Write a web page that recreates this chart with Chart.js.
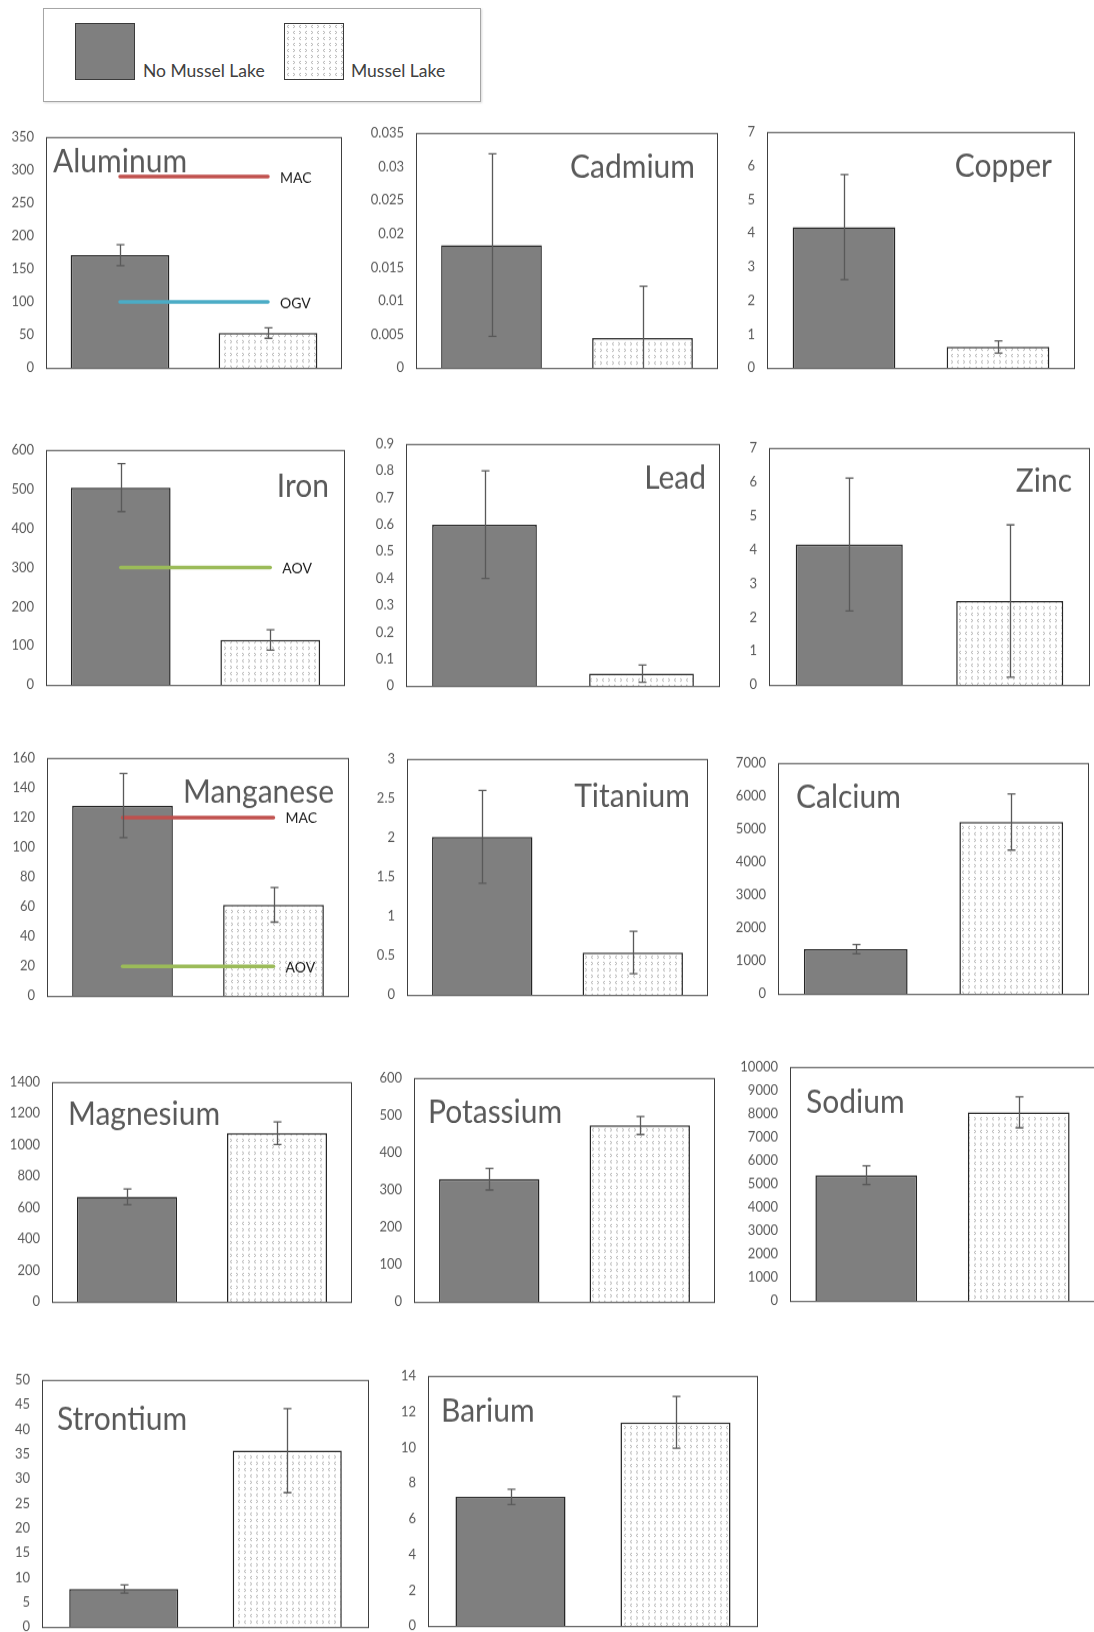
<!DOCTYPE html>
<html>
<head>
<meta charset="utf-8">
<script src="https://cdn.jsdelivr.net/npm/chart.js@4.4.1/dist/chart.umd.min.js"></script>
<style>
  html, body { margin: 0; padding: 0; background: #fff; }
  body { width: 1094px; height: 1632px; position: relative; overflow: hidden; font-family: Lato, sans-serif; }
  canvas { position: absolute; }
  #legend { position: absolute; left: 43px; top: 8px; width: 436px; height: 92px; border: 1px solid #a6a6a6; box-shadow: 1px 1px 2px rgba(0,0,0,0.15); }
  .swatch { position: absolute; top: 14px; width: 58px; height: 55px; border: 1.5px solid #3a3a3a; }
  .lbl { position: absolute; top: 53px; font-size: 17.5px; line-height: 18px; color: #404040; white-space: nowrap; }
</style>
</head>
<body>
<div id="legend">
  <div class="swatch" id="sw0" style="left:31px; background:#7f7f7f"></div><span class="lbl" style="left:99px">No Mussel Lake</span>
  <div class="swatch" id="sw1" style="left:240px"></div><span class="lbl" style="left:307px">Mussel Lake</span>
</div>
<script>
const groups = ["No Mussel Lake", "Mussel Lake"];
const elements = ["Aluminum", "Cadmium", "Copper", "Iron", "Lead", "Zinc", "Manganese",
                  "Titanium", "Calcium", "Magnesium", "Potassium", "Sodium", "Strontium", "Barium"];
const noMusselMean = [171, 0.0183, 4.18, 504, 0.6, 4.15, 128, 2.01, 1357, 670, 329, 5377, 7.7, 7.23];
const noMusselErr  = [16, 0.0136, 1.56, 61, 0.2, 1.96, 21.6, 0.59, 140, 50, 29, 400, 0.85, 0.43];
const musselMean   = [53, 0.00447, 0.625, 115, 0.046, 2.48, 61.3, 0.54, 5212, 1075, 473, 8065, 35.7, 11.4];
const musselErr    = [8, 0.0077, 0.18, 26, 0.032, 2.25, 11.6, 0.27, 850, 72, 24, 660, 8.5, 1.45];
const yAxisMax  = [350, 0.035, 7, 600, 0.9, 7, 160, 3, 7000, 1400, 600, 10000, 50, 14];
const yAxisStep = [50, 0.005, 1, 100, 0.1, 1, 20, 0.5, 1000, 200, 100, 1000, 5, 2];

// guideline values (MAC / OGV / AOV)
const guideElement = ["Aluminum", "Aluminum", "Iron", "Manganese", "Manganese"];
const guideLabel   = ["MAC", "OGV", "AOV", "MAC", "AOV"];
const guideValue   = [290, 100, 300, 120, 20];

// plot-area box on the page: left, top, width, height
const panelBox = [
  [46, 136, 296, 233], [416, 132, 302, 237], [767, 131, 308, 238],
  [46, 449, 299, 237], [406, 443, 314, 244], [769, 447, 321, 239],
  [47, 757, 302, 240], [407, 758, 301, 238], [778, 762, 311, 233],
  [52, 1081, 300, 222], [414, 1077, 301, 226], [790, 1066, 305, 236],
  [42, 1379, 327, 249], [428, 1375, 330, 252]
];
// title: side, inset from that side, baseline below box top
const titlePos = [
  ["left", 7, 33], ["right", 23, 42], ["right", 23, 42],
  ["right", 16, 44], ["right", 14, 42], ["right", 18, 41],
  ["right", 15, 42], ["right", 18, 45], ["left", 18, 42],
  ["left", 16, 40], ["left", 14, 42], ["left", 16, 43],
  ["left", 15, 47], ["left", 13, 43]
];

const AXIS_W = 58, PAD = 12;
const refColors = { MAC: "#c0504d", OGV: "#4bacc6", AOV: "#9bbb59" };

// little chevron dots used for the Mussel Lake bars
const tile = document.createElement("canvas");
tile.width = 12; tile.height = 12;
(function () {
  const g = tile.getContext("2d");
  g.fillStyle = "#fff"; g.fillRect(0, 0, 12, 12);
  g.strokeStyle = "#b0b0b0"; g.lineWidth = 0.9;
  const chev = (x, y, left) => {
    g.beginPath();
    g.moveTo(x + (left ? 2 : 0), y);
    g.lineTo(x + (left ? 0 : 2), y + 1.5);
    g.lineTo(x + (left ? 2 : 0), y + 3);
    g.stroke();
  };
  chev(2, 1, true); chev(8, 1, false); chev(2, 7, false); chev(8, 7, true);
})();
document.getElementById("sw1").style.background = "url(" + tile.toDataURL() + ")";

function decor(i) {
  return {
    id: "decor" + i,
    afterDatasetsDraw(chart) {
      const { ctx, chartArea: a, scales: { y } } = chart;
      ctx.save();
      // plot border
      ctx.strokeStyle = "#404040";
      ctx.lineWidth = 1;
      ctx.strokeRect(a.left + 0.5, a.top + 0.5, a.right - a.left - 1, a.bottom - a.top);

      // error bars
      const means = [noMusselMean[i], musselMean[i]];
      const errs = [noMusselErr[i], musselErr[i]];
      const bars = chart.getDatasetMeta(0).data;
      ctx.strokeStyle = "#595959";
      ctx.lineWidth = 1.3;
      bars.forEach((bar, k) => {
        const x = Math.round(bar.x) + 0.5;
        const top = y.getPixelForValue(means[k] + errs[k]);
        const lo = Math.max(means[k] - errs[k], 0);
        const bot = y.getPixelForValue(lo);
        ctx.beginPath();
        ctx.moveTo(x, top); ctx.lineTo(x, bot);
        ctx.moveTo(x - 4, top); ctx.lineTo(x + 4, top);
        if (lo > 0) { ctx.moveTo(x - 4, bot); ctx.lineTo(x + 4, bot); }
        ctx.stroke();
      });

      // guideline labels
      ctx.fillStyle = "#1a1a1a";
      ctx.font = "14px Lato";
      ctx.textBaseline = "middle";
      ctx.textAlign = "left";
      chart.data.datasets.forEach((ds, k) => {
        if (k === 0) return;
        const pt = chart.getDatasetMeta(k).data[1];
        ctx.fillText(ds.label, pt.x + 12, pt.y + 1);
      });

      // element title
      const [side, inset, base] = titlePos[i];
      ctx.fillStyle = "#595959";
      ctx.font = "30px Lato";
      ctx.textBaseline = "alphabetic";
      ctx.textAlign = side;
      ctx.fillText(elements[i], side === "left" ? a.left + inset : a.right - inset, a.top + base);
      ctx.restore();
    }
  };
}

elements.forEach((name, i) => {
  const box = panelBox[i];
  const canvas = document.createElement("canvas");
  const W = AXIS_W + box[2] + 2 * PAD, H = box[3] + 2 * PAD;
  canvas.width = W; canvas.height = H;
  canvas.style.width = W + "px"; canvas.style.height = H + "px";
  canvas.style.left = (box[0] - AXIS_W - PAD) + "px";
  document.body.appendChild(canvas);

  const pattern = canvas.getContext("2d").createPattern(tile, "repeat");
  const datasets = [{
    type: "bar",
    data: [noMusselMean[i], musselMean[i]],
    backgroundColor: ["#7f7f7f", pattern],
    borderColor: "#262626",
    borderWidth: 1.5,
    barPercentage: 0.667,
    categoryPercentage: 1,
    order: 2
  }];
  guideElement.forEach((el, k) => {
    if (el !== name) return;
    datasets.push({
      type: "line",
      label: guideLabel[k],
      data: [guideValue[k], guideValue[k]],
      borderColor: refColors[guideLabel[k]],
      borderWidth: 3.5,
      borderCapStyle: "round",
      pointRadius: 0,
      order: 1
    });
  });

  const chart = new Chart(canvas, {
    type: "bar",
    data: { labels: groups, datasets },
    options: {
      responsive: false,
      animation: false,
      devicePixelRatio: 1,
      layout: { padding: { left: PAD, right: PAD, top: PAD, bottom: PAD } },
      plugins: { legend: { display: false }, tooltip: { enabled: false } },
      scales: {
        x: { display: false },
        y: {
          min: 0,
          max: yAxisMax[i],
          ticks: {
            stepSize: yAxisStep[i],
            autoSkip: false,
            padding: 12,
            color: "#595959",
            font: { family: "Lato", size: 13 },
            callback: v => String(+v.toFixed(6))
          },
          grid: { display: false, drawTicks: false },
          border: { display: false },
          afterFit: s => { s.width = AXIS_W; }
        }
      }
    },
    plugins: [decor(i)]
  });

  // the tick labels eat a bit of vertical room; grow the canvas so the plot box keeps its size
  const extra = box[3] - (chart.chartArea.bottom - chart.chartArea.top);
  if (extra > 0) {
    chart.resize(W, H + extra);
    canvas.style.width = W + "px";
    canvas.style.height = (H + extra) + "px";
  }
  canvas.style.top = (box[1] - chart.chartArea.top) + "px";
});
</script>
</body>
</html>
